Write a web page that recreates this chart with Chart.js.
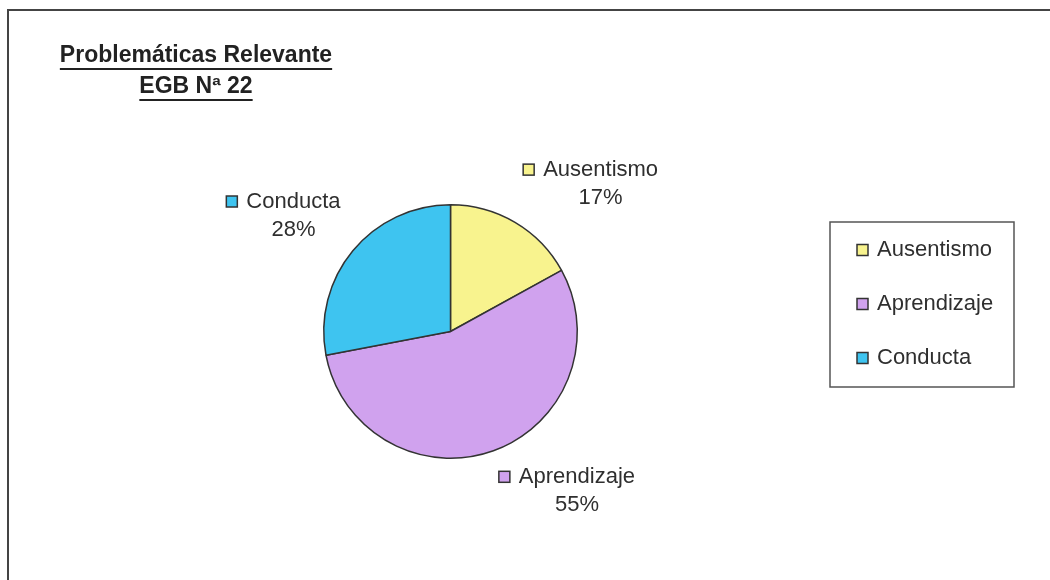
<!DOCTYPE html>
<html>
<head>
<meta charset="utf-8">
<script src="https://cdn.jsdelivr.net/npm/chart.js@4.4.0/dist/chart.umd.min.js"></script>
<style>
    html, body { margin: 0; padding: 0; background: #fff; }
    canvas { display: block; }
</style>
</head>
<body>
<canvas id="grafica_problematicas" width="1050" height="580"></canvas>
<script>
// Gráfica de torta de las problemáticas relevantes de la EGB Nº 22.

var categorias = ['Ausentismo', 'Aprendizaje', 'Conducta'];
var porcentajes = [17, 55, 28];
var colores = ['#F8F38E', '#D0A2EE', '#3EC4F0'];
var tituloLineas = ['Problemáticas Relevante', 'EGB Nª 22'];

var fuente = '"Liberation Sans", Arial, sans-serif';
var colorTexto = '#2f2f2f';
var colorBorde = '#333333';

// Dibuja un cuadrito de color con borde, como los de Excel.
function cuadrito(ctx, x, yCentro, color) {
    ctx.fillStyle = color;
    ctx.fillRect(x, yCentro - 5.5, 11, 11);
    ctx.strokeStyle = colorBorde;
    ctx.lineWidth = 1.5;
    ctx.strokeRect(x, yCentro - 5.5, 11, 11);
}

// Marco exterior (solo se ve el borde izquierdo y el superior).
var marcoPlugin = {
    id: 'marco',
    beforeDraw: function (chart) {
        var ctx = chart.ctx;
        ctx.save();
        ctx.fillStyle = '#ffffff';
        ctx.fillRect(0, 0, chart.width, chart.height);
        ctx.strokeStyle = '#444444';
        ctx.lineWidth = 2;
        ctx.beginPath();
        ctx.moveTo(8, chart.height);
        ctx.lineTo(8, 10);
        ctx.lineTo(chart.width, 10);
        ctx.stroke();
        ctx.restore();
    }
};

// Titulo subrayado arriba a la izquierda.
var tituloPlugin = {
    id: 'tituloSubrayado',
    afterDraw: function (chart) {
        var ctx = chart.ctx;
        var cx = 196;
        var ys = [56, 87];
        ctx.save();
        ctx.font = 'bold 23px ' + fuente;
        ctx.fillStyle = '#222222';
        ctx.strokeStyle = '#222222';
        ctx.textAlign = 'center';
        ctx.textBaseline = 'middle';
        for (var i = 0; i < tituloLineas.length; i++) {
            ctx.fillText(tituloLineas[i], cx, ys[i]);
            var w = ctx.measureText(tituloLineas[i]).width;
            ctx.lineWidth = 2;
            ctx.beginPath();
            ctx.moveTo(cx - w / 2, ys[i] + 13);
            ctx.lineTo(cx + w / 2, ys[i] + 13);
            ctx.stroke();
        }
        ctx.restore();
    }
};

// Etiquetas afuera de la torta: cuadrito + nombre y el porcentaje abajo.
var etiquetasPlugin = {
    id: 'etiquetas',
    afterDatasetsDraw: function (chart) {
        var ctx = chart.ctx;
        var meta = chart.getDatasetMeta(0);
        ctx.save();
        ctx.font = '22px ' + fuente;
        ctx.textBaseline = 'middle';
        meta.data.forEach(function (arc, i) {
            var medio = (arc.startAngle + arc.endAngle) / 2;
            var r = arc.outerRadius + 16;
            var ax = arc.x + Math.cos(medio) * r;
            var ay = arc.y + Math.sin(medio) * r;
            var anchoTexto = ctx.measureText(categorias[i]).width;
            var ancho = 20 + anchoTexto;
            var alto = 50;
            var izq = Math.cos(medio) >= 0 ? ax : ax - ancho;
            var arriba = Math.sin(medio) < 0 ? ay - alto : ay;

            cuadrito(ctx, izq, arriba + 11, colores[i]);
            ctx.fillStyle = colorTexto;
            ctx.textAlign = 'left';
            ctx.fillText(categorias[i], izq + 20, arriba + 11);
            ctx.textAlign = 'center';
            ctx.fillText(porcentajes[i] + '%', izq + 20 + anchoTexto / 2, arriba + 39);
        });
        ctx.restore();
    }
};

// Leyenda con recuadro a la derecha.
var leyendaPlugin = {
    id: 'leyendaRecuadro',
    afterDraw: function (chart) {
        var ctx = chart.ctx;
        var caja = { x: 830, y: 222, w: 184, h: 165 };
        ctx.save();
        ctx.strokeStyle = '#555555';
        ctx.lineWidth = 1.5;
        ctx.strokeRect(caja.x, caja.y, caja.w, caja.h);
        ctx.font = '22px ' + fuente;
        ctx.textBaseline = 'middle';
        ctx.textAlign = 'left';
        var paso = 54;
        var y0 = caja.y + 28;
        for (var i = 0; i < categorias.length; i++) {
            var y = y0 + i * paso;
            cuadrito(ctx, caja.x + 27, y, colores[i]);
            ctx.fillStyle = colorTexto;
            ctx.fillText(categorias[i], caja.x + 47, y);
        }
        ctx.restore();
    }
};

var context = document.getElementById('grafica_problematicas').getContext('2d');
var chart = new Chart(context, {
    type: 'pie',
    data: {
        labels: categorias,
        datasets: [{
            data: porcentajes,
            backgroundColor: colores,
            borderColor: colorBorde,
            borderWidth: 1.5,
            borderAlign: 'center'
        }]
    },
    options: {
        responsive: false,
        animation: false,
        layout: {
            padding: { left: 322, right: 471, top: 204, bottom: 121 }
        },
        plugins: {
            legend: { display: false },
            tooltip: { enabled: false },
            title: { display: false }
        }
    },
    plugins: [marcoPlugin, tituloPlugin, etiquetasPlugin, leyendaPlugin]
});
</script>
</body>
</html>
